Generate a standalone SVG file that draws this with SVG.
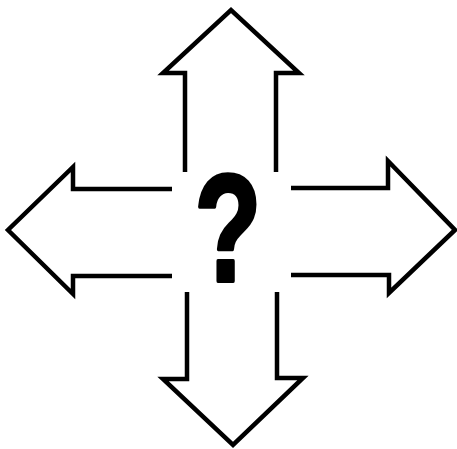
<svg xmlns="http://www.w3.org/2000/svg" width="457" height="449" viewBox="0 0 457 449">
<style>
.arrow{fill:none;stroke:#000;stroke-width:4.5;stroke-linejoin:miter;stroke-miterlimit:10;stroke-linecap:butt}
.q{font-family:"Liberation Sans",Arial,sans-serif;font-weight:bold;font-size:152px;fill:#000;stroke:#000;stroke-width:4;stroke-linejoin:round}
</style>
<rect width="457" height="449" fill="#fff"/>
<g id="connectors">
<polyline id="arrow-up" class="arrow" points="185,172 185,73 163,73 231,10 299,73 276,73 276,172"/>
<polyline id="arrow-left" class="arrow" points="172,189 73,189 73,167 8,230 73,294 73,276 172,276"/>
<polyline id="arrow-right" class="arrow" points="291,188 388,188 388,161 455,230 389,293 389,275 291,275"/>
<polyline id="arrow-down" class="arrow" points="187,292 187,379 163,379 233,445 303,378 277,378 277,292"/>
</g>
<g id="center">
<text class="q" transform="translate(228,281) scale(0.72,1)" text-anchor="middle">?</text>
</g>
</svg>
